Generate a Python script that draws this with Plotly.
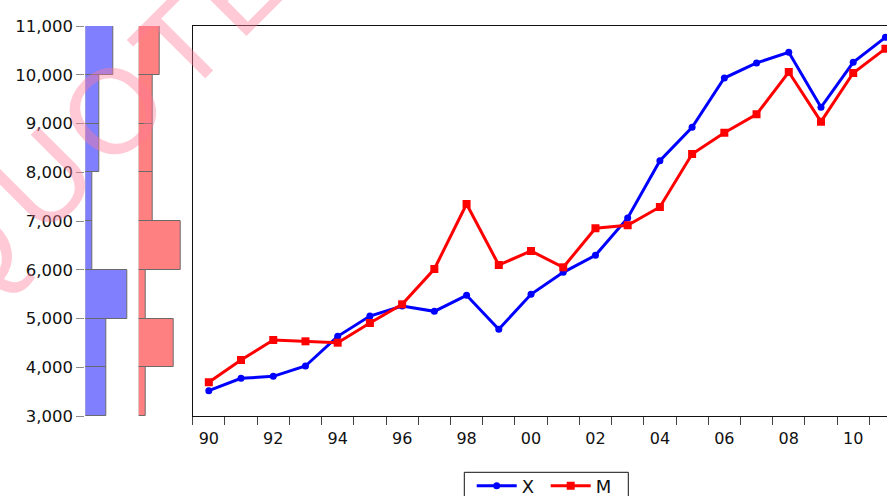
import plotly.graph_objects as go

W, H = 887, 496

# Annual series, 1990-2011
years = list(range(1990, 2012))
x_vals = [3519, 3773, 3814, 4026, 4634, 5051, 5256, 5147, 5475, 4778, 5496,
          5947, 6296, 7062, 8237, 8921, 9933, 10241, 10460, 9332, 10255, 10768]
m_vals = [3691, 4149, 4559, 4532, 4504, 4908, 5291, 6015, 7349, 6097, 6385,
          6050, 6850, 6912, 7287, 8374, 8812, 9188, 10056, 9038, 10036, 10535]

y_ticks = list(range(3000, 12000, 1000))
x_label_years = list(range(1990, 2011, 2))
x_label_text = [f"{y % 100:02d}" for y in x_label_years]
year_edges = [y - 0.5 for y in range(1990, 2012)]

FONT = "DejaVu Sans"

def px(x):
    return x / W

def py(y):
    return 1 - y / H

y_dom = [py(416), py(26)]
count_px = 6.95  # pixels per observation in the marginal histograms

fig = go.Figure()

# marginal histograms
fig.add_trace(go.Histogram(
    y=x_vals, orientation="h", xaxis="x2", yaxis="y",
    ybins=dict(start=3000, end=11000, size=1000),
    marker=dict(color="#8080FF", line=dict(color="#6a6a6a", width=1)),
    showlegend=False, hoverinfo="skip"))
fig.add_trace(go.Histogram(
    y=m_vals, orientation="h", xaxis="x3", yaxis="y",
    ybins=dict(start=3000, end=11000, size=1000),
    marker=dict(color="#FF8080", line=dict(color="#6a6a6a", width=1)),
    showlegend=False, hoverinfo="skip"))

# main line chart
fig.add_trace(go.Scatter(
    x=years, y=x_vals, name="X", xaxis="x", yaxis="y2",
    mode="lines+markers", line=dict(color="#0000FF", width=3),
    marker=dict(symbol="circle", size=7, color="#0000FF")))
fig.add_trace(go.Scatter(
    x=years, y=m_vals, name="M", xaxis="x", yaxis="y2",
    mode="lines+markers", line=dict(color="#FF0000", width=3),
    marker=dict(symbol="square", size=8, color="#FF0000")))

main_left = 192.7
yr_px = 32.22
x_range = [1989.5, 1989.5 + (W - main_left) / yr_px]

fig.update_layout(
    width=W, height=H,
    margin=dict(l=0, r=0, t=0, b=0, autoexpand=False),
    paper_bgcolor="white", plot_bgcolor="rgba(0,0,0,0)",
    font=dict(family=FONT, size=16, color="#111111"),
    bargap=0,
    xaxis=dict(
        domain=[px(main_left), 1], range=x_range, anchor="y2",
        showline=True, linecolor="#111111", linewidth=1, mirror=True,
        showgrid=False, zeroline=False,
        tickmode="array", tickvals=x_label_years, ticktext=x_label_text,
        ticks="outside", ticklen=8, tickcolor="rgba(0,0,0,0)",
        tickfont=dict(family=FONT, size=16, color="#111111"),
        minor=dict(tickmode="array", tickvals=year_edges, ticks="outside",
                   ticklen=8, tickcolor="#444444", tickwidth=1, showgrid=False),
    ),
    yaxis2=dict(
        domain=y_dom, range=[3000, 11000], anchor="x",
        showline=True, linecolor="#111111", linewidth=1,
        showgrid=False, zeroline=False, showticklabels=False, ticks="",
    ),
    xaxis2=dict(
        domain=[px(85.3), px(85.3 + 7 * count_px)], range=[0, 7], anchor="y",
        visible=False, showgrid=False, zeroline=False,
    ),
    xaxis3=dict(
        domain=[px(138.7), px(138.7 + 7 * count_px)], range=[0, 7], anchor="y",
        visible=False, showgrid=False, zeroline=False,
    ),
    yaxis=dict(
        domain=y_dom, range=[3000, 11000], anchor="x2",
        showline=False, showgrid=False, zeroline=False,
        tickmode="array", tickvals=y_ticks, tickformat=",",
        ticks="outside", ticklen=8, tickcolor="#8c8c8c", tickwidth=1,
        tickfont=dict(family=FONT, size=16.5, color="#111111"),
    ),
    legend=dict(
        orientation="h", x=px(471.7), xanchor="left",
        y=py(486), yanchor="middle",
        borderwidth=0, bgcolor="rgba(0,0,0,0)",
        font=dict(family=FONT, size=18, color="#111111"),
        entrywidth=19, itemwidth=40,
    ),
)

# legend frame
fig.add_shape(type="rect", xref="paper", yref="paper",
              x0=px(464.3), x1=px(628.3), y0=py(500), y1=py(472.3),
              line=dict(color="#111111", width=1), fillcolor="white",
              layer="below")

# faint diagonal watermark lettering in the upper-left corner
wm_letters = ["Q", "U", "O", "T", "E"]
wm_centers = [(-32, 255), (43, 180), (112, 111), (179, 45), (238, -15)]
for ch, (cx, cy) in zip(wm_letters, wm_centers):
    fig.add_annotation(
        x=px(cx), y=py(cy), xref="paper", yref="paper",
        text=ch, showarrow=False, textangle=-45,
        xanchor="center", yanchor="middle",
        font=dict(family="Liberation Sans", size=120,
                  color="rgba(255,120,150,0.4)"))

fig.write_html("out.html")
